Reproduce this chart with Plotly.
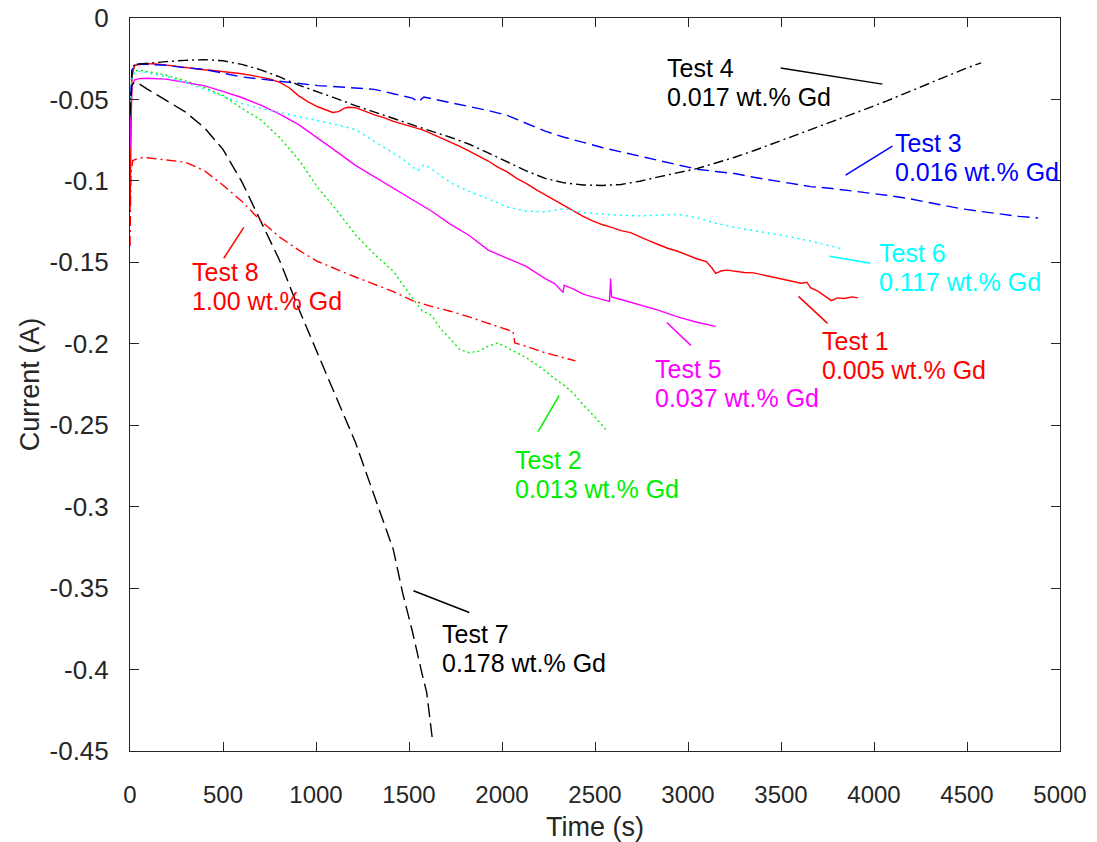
import plotly.graph_objects as go

# ---- measured current transients (time in s, current in A) ----
t1 = [0, 10, 25, 50, 91, 142, 193, 244, 295, 346, 397, 448, 499, 550, 601, 652, 703, 754, 805, 856,
      907, 958, 1009, 1060, 1090, 1121, 1151, 1172, 1212, 1263, 1314, 1365, 1416, 1467, 1518, 1569,
      1620, 1671, 1722, 1773, 1824, 1875, 1926, 1977, 2028, 2079, 2130, 2181, 2232, 2283, 2334, 2385,
      2436, 2487, 2538, 2589, 2640, 2691, 2741, 2792, 2843, 2894, 2945, 2996, 3047, 3098, 3129, 3149,
      3180, 3210, 3251, 3302, 3353, 3404, 3455, 3506, 3557, 3608, 3639, 3659, 3700, 3740, 3771, 3802,
      3842, 3883, 3914]
i1 = [-0.118, -0.036, -0.029, -0.0285, -0.028, -0.0282, -0.029, -0.0296, -0.0305, -0.0312, -0.0318,
      -0.0322, -0.0328, -0.0334, -0.0342, -0.0352, -0.0362, -0.0375, -0.0395, -0.0428, -0.0478, -0.0515,
      -0.0545, -0.0568, -0.058, -0.0575, -0.0555, -0.0548, -0.055, -0.0572, -0.0595, -0.0612, -0.0635,
      -0.0652, -0.0668, -0.0685, -0.071, -0.0735, -0.076, -0.0788, -0.0818, -0.0848, -0.0878, -0.0915,
      -0.0945, -0.0985, -0.1015, -0.1052, -0.1085, -0.1118, -0.1155, -0.1185, -0.1218, -0.1245, -0.1268,
      -0.1285, -0.1305, -0.1318, -0.1345, -0.1368, -0.1392, -0.1415, -0.1432, -0.1455, -0.1478, -0.1495,
      -0.1535, -0.1568, -0.1552, -0.1548, -0.1555, -0.1562, -0.1565, -0.1578, -0.1592, -0.1605, -0.1618,
      -0.1628, -0.1622, -0.1655, -0.1678, -0.1712, -0.1735, -0.1718, -0.1722, -0.1712, -0.1718]

t2 = [0, 10, 25, 50, 91, 193, 295, 397, 499, 601, 703, 805, 907, 1009, 1111, 1212, 1314, 1416, 1518,
      1569, 1620, 1671, 1722, 1773, 1824, 1875, 1926, 1977, 2028, 2079, 2130, 2181, 2232, 2283, 2334,
      2385, 2436, 2487, 2538, 2558]
i2 = [-0.065, -0.036, -0.0325, -0.032, -0.0328, -0.035, -0.0385, -0.0425, -0.0475, -0.0555, -0.0625,
      -0.0735, -0.087, -0.104, -0.118, -0.133, -0.145, -0.1555, -0.172, -0.1795, -0.1825, -0.191, -0.197,
      -0.2035, -0.2055, -0.2045, -0.2015, -0.1995, -0.2025, -0.2055, -0.2085, -0.2125, -0.2165, -0.2215,
      -0.2255, -0.2305, -0.2375, -0.2435, -0.2495, -0.2525]

t3 = [0, 10, 25, 50, 91, 193, 295, 397, 499, 601, 703, 805, 907, 1009, 1111, 1212, 1314, 1416, 1467,
      1518, 1549, 1580, 1620, 1722, 1824, 1926, 2028, 2130, 2232, 2334, 2436, 2538, 2640, 2741, 2843,
      2945, 3047, 3149, 3251, 3353, 3455, 3557, 3659, 3761, 3863, 3965, 4067, 4169, 4271, 4373, 4474,
      4576, 4678, 4780, 4882]
i3 = [-0.06, -0.032, -0.0285, -0.0282, -0.0285, -0.029, -0.0305, -0.0315, -0.0338, -0.0362, -0.0375,
      -0.0388, -0.0402, -0.0415, -0.0422, -0.0428, -0.0438, -0.0465, -0.048, -0.0492, -0.0515, -0.0485,
      -0.0495, -0.0518, -0.0545, -0.0568, -0.0598, -0.0645, -0.0695, -0.0732, -0.0765, -0.0795, -0.0822,
      -0.0848, -0.0878, -0.0905, -0.0928, -0.0942, -0.0955, -0.0978, -0.0998, -0.1015, -0.1035, -0.1045,
      -0.1058, -0.1072, -0.1088, -0.1105, -0.1128, -0.1152, -0.1172, -0.1188, -0.1205, -0.1218, -0.1228]

t4 = [0, 10, 25, 50, 91, 193, 295, 397, 499, 601, 703, 805, 907, 1009, 1111, 1212, 1314, 1416, 1518,
      1620, 1722, 1824, 1926, 2028, 2130, 2232, 2334, 2436, 2538, 2640, 2741, 2843, 2945, 3047, 3149,
      3251, 3353, 3455, 3557, 3659, 3761, 3863, 3965, 4067, 4169, 4271, 4373, 4474, 4576]
i4 = [-0.075, -0.032, -0.0285, -0.0282, -0.0278, -0.0268, -0.026, -0.0256, -0.0262, -0.0285, -0.0318,
      -0.0362, -0.0412, -0.0452, -0.0495, -0.0538, -0.0578, -0.0618, -0.0655, -0.0695, -0.0732, -0.0775,
      -0.0828, -0.0885, -0.0938, -0.0985, -0.1012, -0.1025, -0.1028, -0.1022, -0.1002, -0.0975, -0.0948,
      -0.0925, -0.089, -0.0855, -0.0815, -0.0772, -0.0728, -0.0685, -0.0645, -0.06, -0.0555, -0.051,
      -0.0462, -0.0415, -0.0368, -0.0318, -0.0275]

t5 = [0, 10, 25, 50, 91, 193, 295, 397, 499, 601, 703, 805, 907, 1009, 1111, 1212, 1314, 1416, 1518,
      1620, 1722, 1824, 1926, 2028, 2130, 2232, 2283, 2329, 2334, 2385, 2436, 2487, 2538, 2578, 2584,
      2589, 2640, 2741, 2843, 2945, 3047, 3149]
i5 = [-0.08, -0.042, -0.038, -0.0372, -0.037, -0.0375, -0.0395, -0.0415, -0.045, -0.0488, -0.0535,
      -0.059, -0.0655, -0.0735, -0.082, -0.0905, -0.0975, -0.1045, -0.1115, -0.1185, -0.1265, -0.1335,
      -0.1425, -0.1475, -0.1525, -0.16, -0.163, -0.1685, -0.164, -0.1665, -0.1695, -0.1712, -0.1728,
      -0.174, -0.16, -0.1712, -0.1728, -0.176, -0.1795, -0.1835, -0.1868, -0.1893]

t6 = [0, 10, 25, 50, 91, 193, 295, 397, 499, 601, 703, 805, 907, 1009, 1111, 1212, 1314, 1416, 1467,
      1518, 1549, 1580, 1620, 1722, 1824, 1926, 2028, 2130, 2232, 2334, 2436, 2538, 2640, 2741, 2843,
      2945, 3047, 3149, 3251, 3353, 3455, 3557, 3659, 3761, 3822]
i6 = [-0.06, -0.036, -0.0335, -0.0328, -0.0335, -0.036, -0.0395, -0.0435, -0.048, -0.0525, -0.0555,
      -0.058, -0.0605, -0.063, -0.0655, -0.0685, -0.076, -0.083, -0.0865, -0.0915, -0.0935, -0.09,
      -0.0925, -0.101, -0.1065, -0.111, -0.116, -0.1185, -0.119, -0.117, -0.1195, -0.1205, -0.1212,
      -0.1215, -0.1208, -0.1205, -0.1225, -0.126, -0.1285, -0.1305, -0.1325, -0.1345, -0.137, -0.1398,
      -0.1415]

t7 = [0, 10, 25, 50, 91, 193, 295, 397, 499, 601, 703, 805, 907, 1009, 1111, 1212, 1263, 1314, 1365,
      1416, 1467, 1518, 1569, 1595, 1610, 1628]
i7 = [-0.06, -0.041, -0.0395, -0.0405, -0.0435, -0.0505, -0.0575, -0.067, -0.0805, -0.1005, -0.1245,
      -0.149, -0.1785, -0.2065, -0.2335, -0.2605, -0.277, -0.2935, -0.309, -0.3265, -0.3535, -0.3765,
      -0.402, -0.414, -0.428, -0.445]

t8 = [0, 5, 15, 50, 91, 193, 295, 397, 499, 601, 703, 805, 907, 1009, 1111, 1212, 1314, 1416, 1518,
      1620, 1722, 1824, 1926, 2028, 2059, 2069, 2130, 2232, 2334, 2395]
i8 = [-0.14, -0.095, -0.0875, -0.0858, -0.0858, -0.087, -0.0885, -0.0935, -0.1025, -0.1125, -0.1245,
      -0.1345, -0.1425, -0.1495, -0.1545, -0.159, -0.1635, -0.168, -0.1735, -0.177, -0.18, -0.1835,
      -0.1875, -0.191, -0.1925, -0.1995, -0.2015, -0.2055, -0.2085, -0.2105]

# ---- series labels ----
test_names = ["Test 1", "Test 2", "Test 3", "Test 4", "Test 5", "Test 6", "Test 7", "Test 8"]
gd_contents = ["0.005 wt.% Gd", "0.013 wt.% Gd", "0.016 wt.% Gd", "0.017 wt.% Gd",
               "0.037 wt.% Gd", "0.117 wt.% Gd", "0.178 wt.% Gd", "1.00 wt.% Gd"]

# ---- axis ticks ----
x_ticks = [0, 500, 1000, 1500, 2000, 2500, 3000, 3500, 4000, 4500, 5000]
x_tick_labels = ["0", "500", "1000", "1500", "2000", "2500", "3000", "3500", "4000", "4500", "5000"]
y_ticks = [0, -0.05, -0.1, -0.15, -0.2, -0.25, -0.3, -0.35, -0.4, -0.45]
y_tick_labels = ["0", "-0.05", "-0.1", "-0.15", "-0.2", "-0.25", "-0.3", "-0.35", "-0.4", "-0.45"]

times = [t1, t2, t3, t4, t5, t6, t7, t8]
currents = [i1, i2, i3, i4, i5, i6, i7, i8]
colors = ["#ff0000", "#00ee00", "#0000ff", "#000000", "#ff00ff", "#00ffff", "#000000", "#ff0000"]
dashes = ["solid", "2px,3px", "12px,6px", "10px,4px,2px,4px", "solid", "2px,4px", "14px,6px",
          "10px,4px,2px,4px"]

# label placement: (text left x, text centre y, leader start, leader end)
label_pos = [
    (3707, -0.2069, (3594, -0.1709), (3750, -0.1875)),
    (2060, -0.2803, (2194, -0.2540), (2307, -0.2318)),
    (4104, -0.0858, (3847, -0.0965), (4099, -0.0787)),
    (2876, -0.0397, (3498, -0.0307), (4045, -0.0406)),
    (2811, -0.2241, (2886, -0.1869), (3015, -0.2010)),
    (4018, -0.1531, (3761, -0.1463), (3981, -0.1506)),
    (1668, -0.3870, (1524, -0.3516), (1824, -0.3650)),
    (322, -0.1651, (504, -0.1475), (612, -0.1285)),
]
LINE_GAP = 14.5  # half the spacing between the two label lines, px

FONT = "Liberation Sans, Arial, Helvetica, sans-serif"
AXIS_COLOR = "#262626"

fig = go.Figure()
for t, cur, c, d, name in zip(times, currents, colors, dashes, test_names):
    fig.add_trace(go.Scatter(x=t, y=cur, mode="lines", name=name,
                             line=dict(color=c, width=1.4, dash=d), showlegend=False))

for (tx, ty, p0, p1), c, name, gd in zip(label_pos, colors, test_names, gd_contents):
    fig.add_shape(type="line", x0=p0[0], y0=p0[1], x1=p1[0], y1=p1[1],
                  line=dict(color=c, width=1.5), xref="x", yref="y")
    for txt, shift in ((name, LINE_GAP), (gd, -LINE_GAP)):
        fig.add_annotation(x=tx, y=ty, text=txt, showarrow=False, yshift=shift,
                           xanchor="left", yanchor="middle", align="left",
                           font=dict(family=FONT, size=25, color=c))

axis_common = dict(showline=True, linecolor=AXIS_COLOR, linewidth=1, mirror="ticks",
                   ticks="inside", ticklen=9, tickcolor=AXIS_COLOR, showgrid=False,
                   zeroline=False, ticklabeloverflow="allow", automargin=False)

fig.update_xaxes(range=[0, 5000], tickvals=x_ticks, ticktext=x_tick_labels,
                 tickfont=dict(family=FONT, size=24, color=AXIS_COLOR),
                 title=dict(text="Time (s)", font=dict(family=FONT, size=27, color=AXIS_COLOR),
                            standoff=10),
                 ticklabelstandoff=22, **axis_common)
fig.update_yaxes(range=[-0.45, 0], tickvals=y_ticks, ticktext=y_tick_labels,
                 tickfont=dict(family=FONT, size=26, color=AXIS_COLOR),
                 title=dict(text="Current (A)", font=dict(family=FONT, size=27, color=AXIS_COLOR),
                            standoff=2),
                 ticklabelstandoff=15, **axis_common)

fig.update_layout(width=1097, height=842, margin=dict(l=130, r=37, t=18, b=91),
                  plot_bgcolor="white", paper_bgcolor="white")

fig.write_html("out.html")
